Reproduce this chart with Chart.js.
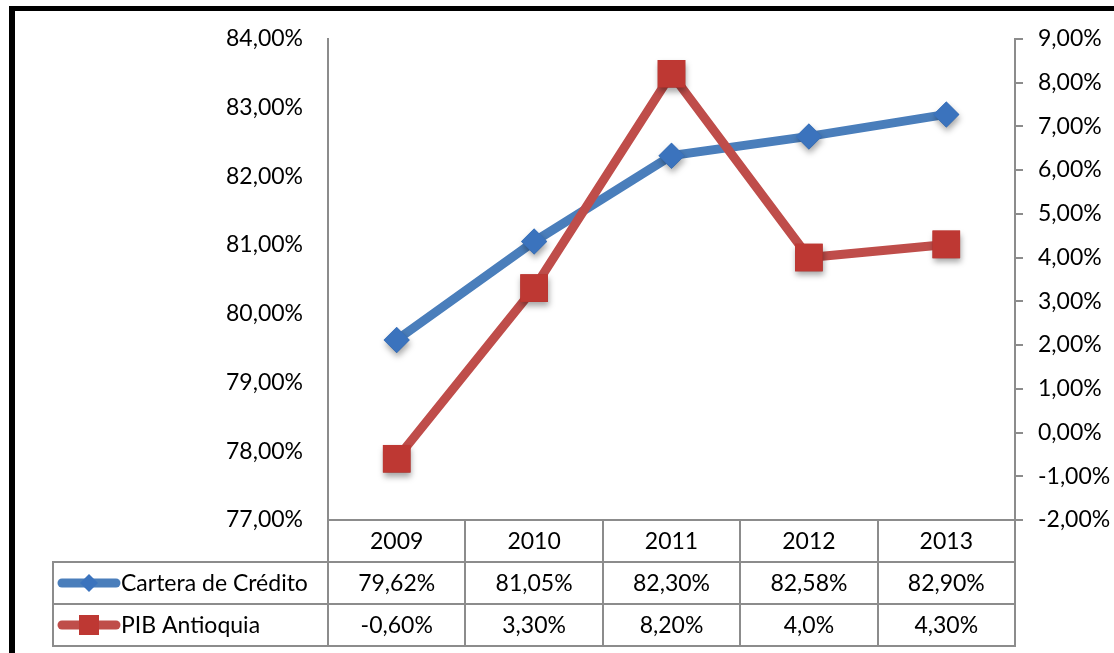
<!DOCTYPE html>
<html>
<head>
<meta charset="utf-8">
<script src="https://cdn.jsdelivr.net/npm/chart.js@4/dist/chart.umd.min.js"></script>
<style>
  html, body { margin: 0; padding: 0; background: #ffffff; }
  #wrap { position: relative; width: 1114px; height: 653px; }
  canvas { display: block; }
</style>
</head>
<body>
<div id="wrap"><canvas id="c" width="1114" height="653"></canvas></div>
<script>
// ---- data ----
const categories = ['2009', '2010', '2011', '2012', '2013'];
const seriesNames = ['Cartera de Crédito', 'PIB Antioquia'];
const carteraValues = [79.62, 81.05, 82.30, 82.58, 82.90];
const pibValues = [-0.60, 3.30, 8.20, 4.0, 4.30];
const carteraTableLabels = ['79,62%', '81,05%', '82,30%', '82,58%', '82,90%'];
const pibTableLabels = ['-0,60%', '3,30%', '8,20%', '4,0%', '4,30%'];
const leftTicks = [77, 78, 79, 80, 81, 82, 83, 84];
const rightTicks = [-2, -1, 0, 1, 2, 3, 4, 5, 6, 7, 8, 9];

const FONT = 'Lato, "Open Sans", sans-serif';
const FSIZE = 23;
const BLUE_LINE = '#4A7EBB';
const BLUE_MARK = '#3B73BD';
const RED_LINE = '#BF4D4A';
const RED_MARK = '#BE3833';
const GRID = '#8C8C8C';

function fmt(v) { return v.toFixed(2).replace('.', ',') + '%'; }

const frame = {
  id: 'frame',
  beforeDraw(chart) {
    const ctx = chart.ctx;
    ctx.save();
    ctx.fillStyle = '#ffffff';
    ctx.fillRect(0, 0, chart.width, chart.height);
    ctx.fillStyle = '#000000';
    ctx.fillRect(9, 6, 6, chart.height - 6);
    ctx.fillRect(9, 6, chart.width - 9, 5);
    ctx.restore();
  }
};

const markerShadow = {
  id: 'markerShadow',
  afterDatasetDraw(chart, args) {
    const ctx = chart.ctx;
    ctx.save();
    ctx.shadowColor = 'rgba(0,0,0,0.35)';
    ctx.shadowBlur = 6;
    ctx.shadowOffsetX = 1;
    ctx.shadowOffsetY = 4;
    args.meta.data.forEach(pt => pt.draw(ctx, chart.chartArea));
    ctx.restore();
  }
};

function drawKey(ctx, x0, x1, y, color, markColor, shape) {
  ctx.save();
  ctx.strokeStyle = color;
  ctx.lineWidth = 9;
  ctx.lineCap = 'round';
  ctx.beginPath();
  ctx.moveTo(x0, y);
  ctx.lineTo(x1, y);
  ctx.stroke();
  const cx = (x0 + x1) / 2;
  ctx.fillStyle = markColor;
  ctx.beginPath();
  if (shape === 'diamond') {
    const r = 9;
    ctx.moveTo(cx - r, y); ctx.lineTo(cx, y - r); ctx.lineTo(cx + r, y); ctx.lineTo(cx, y + r);
    ctx.closePath();
  } else {
    ctx.rect(cx - 10, y - 10, 20, 20);
  }
  ctx.fill();
  ctx.restore();
}

const dataTable = {
  id: 'dataTable',
  afterDraw(chart) {
    const ctx = chart.ctx;
    const area = chart.chartArea;
    const xs = chart.scales.x;
    const n = categories.length;
    const colW = (area.right - area.left) / n;
    const yTop = area.bottom;
    const r1 = yTop + 42, r2 = r1 + 42, r3 = r2 + 42;
    const tblLeft = 53;
    ctx.save();
    ctx.strokeStyle = GRID;
    ctx.lineWidth = 2;
    ctx.beginPath();
    // vertical lines in category columns
    for (let k = 0; k <= n; k++) {
      const x = Math.round(area.left + k * colW);
      ctx.moveTo(x, yTop);
      ctx.lineTo(x, r3);
    }
    // left edge
    ctx.moveTo(tblLeft, r1);
    ctx.lineTo(tblLeft, r3);
    // horizontal lines
    [r1, r2, r3].forEach(y => {
      ctx.moveTo(tblLeft - 1, y);
      ctx.lineTo(area.right + 1, y);
    });
    ctx.stroke();

    ctx.fillStyle = '#000000';
    ctx.font = FSIZE + 'px ' + FONT;
    ctx.textAlign = 'center';
    ctx.textBaseline = 'middle';
    categories.forEach((c, i) => {
      const cx = xs.getPixelForValue(i);
      ctx.fillText(c, cx, (yTop + r1) / 2 + 1);
      ctx.fillText(carteraTableLabels[i], cx, (r1 + r2) / 2 + 1);
      ctx.fillText(pibTableLabels[i], cx, (r2 + r3) / 2 + 1);
    });
    // legend keys
    drawKey(ctx, 62, 116, (r1 + r2) / 2, BLUE_LINE, BLUE_MARK, 'diamond');
    drawKey(ctx, 62, 116, (r2 + r3) / 2, RED_LINE, RED_MARK, 'square');
    ctx.textAlign = 'left';
    ctx.fillStyle = '#000000';
    ctx.fillText(seriesNames[0], 121, (r1 + r2) / 2 + 1);
    ctx.fillText(seriesNames[1], 121, (r2 + r3) / 2 + 1);
    ctx.restore();
  }
};

new Chart(document.getElementById('c'), {
  type: 'line',
  data: {
    labels: categories,
    datasets: [
      {
        label: seriesNames[0],
        data: carteraValues,
        yAxisID: 'y',
        borderColor: BLUE_LINE,
        backgroundColor: BLUE_MARK,
        borderWidth: 9,
        pointStyle: 'rectRot',
        pointRadius: 13,
        pointBackgroundColor: BLUE_MARK,
        pointBorderWidth: 0,
        tension: 0,
        order: 1
      },
      {
        label: seriesNames[1],
        data: pibValues,
        yAxisID: 'y1',
        borderColor: RED_LINE,
        backgroundColor: RED_MARK,
        borderWidth: 9,
        pointStyle: 'rect',
        pointRadius: 19.5,
        pointBackgroundColor: RED_MARK,
        pointBorderWidth: 0,
        tension: 0,
        order: 0
      }
    ]
  },
  options: {
    responsive: false,
    animation: false,
    devicePixelRatio: 1,
    layout: { padding: { top: 38, left: 0, right: 0, bottom: 0 } },
    plugins: {
      legend: { display: false },
      tooltip: { enabled: false },
      title: { display: false }
    },
    scales: {
      x: {
        offset: true,
        grid: { display: false, drawTicks: false },
        border: { display: true, color: GRID, width: 2 },
        ticks: { display: false },
        afterFit(scale) { scale.height = 653 - 520; }
      },
      y: {
        position: 'left',
        min: 77,
        max: 84,
        afterBuildTicks(scale) { scale.ticks = leftTicks.map(v => ({ value: v })); },
        grid: { drawOnChartArea: false, drawTicks: false },
        border: { display: true, color: GRID, width: 2 },
        ticks: {
          color: '#000000',
          padding: 25,
          font: { family: FONT, size: FSIZE },
          callback: v => fmt(v)
        },
        afterFit(scale) { scale.width = 328; }
      },
      y1: {
        position: 'right',
        min: -2,
        max: 9,
        afterBuildTicks(scale) { scale.ticks = rightTicks.map(v => ({ value: v })); },
        grid: { drawOnChartArea: false, drawTicks: true, tickLength: 8, color: GRID, lineWidth: 2 },
        border: { display: true, color: GRID, width: 2 },
        ticks: {
          color: '#000000',
          padding: 15,
          font: { family: FONT, size: FSIZE },
          callback: v => fmt(v)
        },
        afterFit(scale) { scale.width = 1114 - 1015; }
      }
    }
  },
  plugins: [frame, markerShadow, dataTable]
});
</script>
</body>
</html>
